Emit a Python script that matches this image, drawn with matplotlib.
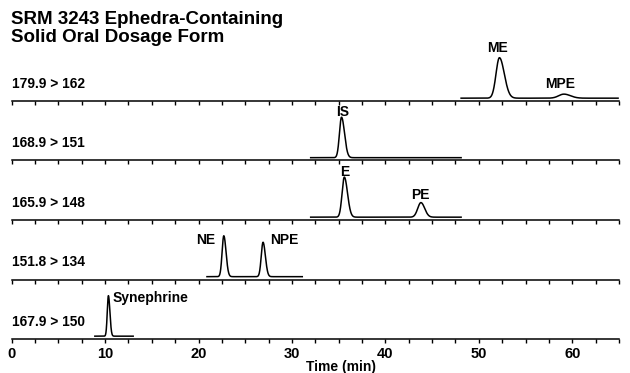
import matplotlib
matplotlib.use("Agg")
import matplotlib.pyplot as plt
import numpy as np

plt.rcParams["font.family"] = ["Liberation Sans", "DejaVu Sans"]
plt.rcParams["font.weight"] = "bold"

# --- data ---
transitions = ["179.9 > 162", "168.9 > 151", "165.9 > 148", "151.8 > 134", "167.9 > 150"]
# recorded time window of each trace (min)
window_start = [48.1, 32.0, 32.0, 20.9, 8.9]
window_end = [64.9, 48.1, 48.1, 31.1, 13.0]
# peaks per trace: name, retention time, relative height, left / right width
peak_names = [["ME", "MPE"], ["IS"], ["E", "PE"], ["NE", "NPE"], ["Synephrine"]]
peak_rt = [[52.2, 59.1], [35.3], [35.6, 43.8], [22.7, 26.9], [10.35]]
peak_height = [[1.0, 0.10], [1.0], [0.99, 0.36], [1.01, 0.85], [1.0]]
peak_sig_left = [[0.36, 0.55], [0.22], [0.24, 0.34], [0.18, 0.19], [0.12]]
peak_sig_right = [[0.52, 0.7], [0.32], [0.34, 0.40], [0.24, 0.25], [0.16]]
# peak label placement (time, height, alignment)
label_x = [[51.95, 58.7], [35.4], [35.7, 43.7], [21.8, 27.7], [10.85]]
label_y = [[1.24, 0.35], [1.14], [1.12, 0.55], [0.90, 0.90], [0.95]]
label_ha = [["center", "center"], ["center"], ["center", "center"], ["right", "left"], ["left"]]

tick_step = 2.5
x_max = 65

W, H = 630, 373
fig, axes = plt.subplots(5, 1, figsize=(W / 100, H / 100), dpi=100, sharex=True)
fig.subplots_adjust(left=11.7 / W, right=619 / W, bottom=34 / H,
                    top=1 - 41.5 / H, hspace=0)


def trace(t, rts, hs, sl, sr):
    y = np.zeros_like(t)
    for rt, h, a, b in zip(rts, hs, sl, sr):
        s = np.where(t < rt, a, b)
        y += h * np.exp(-0.5 * ((t - rt) / s) ** 2)
    return y


for i, ax in enumerate(axes):
    t = np.linspace(window_start[i], window_end[i], 1500)
    y = trace(t, peak_rt[i], peak_height[i], peak_sig_left[i], peak_sig_right[i])
    ax.plot(t, y, color="black", lw=1.1)

    for name, lx, ly, ha in zip(peak_names[i], label_x[i], label_y[i], label_ha[i]):
        ax.text(lx, ly, name, ha=ha, va="center", fontsize=10, fontweight="bold")

    ax.text(0, 0.29, transitions[i], transform=ax.transAxes, ha="left",
            va="center", fontsize=9.9, fontweight="bold")

    ax.set_xlim(0, x_max)
    ax.set_ylim(-0.07, 1.4)
    for side in ("top", "right", "left"):
        ax.spines[side].set_visible(False)
    ax.spines["bottom"].set_linewidth(1.1)
    ax.set_yticks([])
    ticks = np.arange(0, x_max + 0.1, tick_step)
    ax.set_xticks(ticks)
    ax.set_xticklabels([f"{v:.0f}" if v % 10 == 0 else "" for v in ticks])
    ax.tick_params(axis="x", direction="out", length=3, width=1.0, pad=3,
                   labelsize=10.5, labelbottom=(i == len(axes) - 1))
    ax.patch.set_visible(False)

for lbl in axes[-1].get_xticklabels():
    lbl.set_fontweight("bold")

fig.text(11 / W, 1 - 11 / H, "SRM 3243 Ephedra-Containing\nSolid Oral Dosage Form",
         ha="left", va="top", fontsize=13.5, fontweight="bold", linespacing=1.05)
fig.text(306 / W, 1 - 367 / H, "Time (min)", ha="left", va="center",
         fontsize=10, fontweight="bold")

fig.savefig("out.png", dpi=100)
